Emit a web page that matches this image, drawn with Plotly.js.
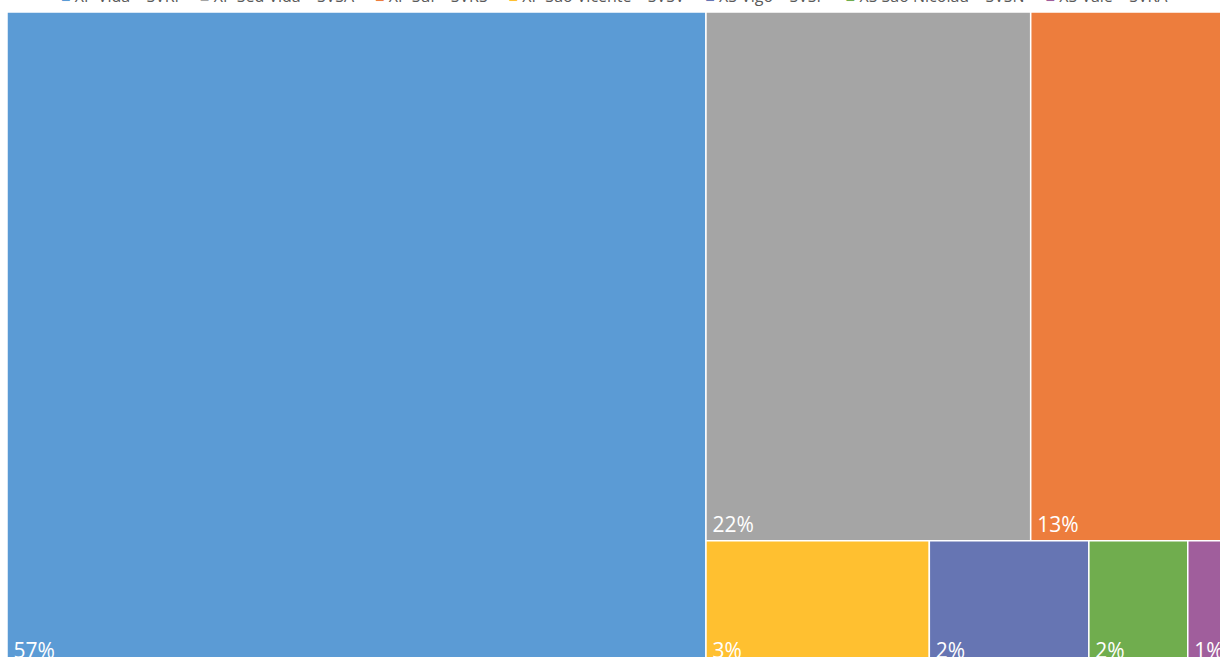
<!DOCTYPE html>
<html>
<head>
<meta charset="utf-8">
<script src="https://cdn.plot.ly/plotly-3.0.1.min.js"></script>
<style>
html,body{margin:0;padding:0;overflow:hidden;background:#fff;width:1220px;height:657px;}
#chart{position:absolute;left:0;top:-12px;width:1235px;height:679px;}
</style>
</head>
<body>
<div id="chart"></div>
<script>
// Categories (legend names, partly cut off at top of the reference)
const categories = ["XP Vida – SVRI", "XP Sed Vida – SVSA", "XP Sul – SVRS", "XP São Vicente – SVSV", "XS Vigo – SVSF", "XS São Nicolau – SVSN", "XS Vale – SVRA"];
// Share of total (%), read from the tile areas
const values = [56.8, 21.3, 13.4, 3.5, 2.5, 1.55, 0.74];
// Data labels as printed on the tiles
const pctLabels = ["57%", "22%", "13%", "3%", "2%", "2%", "1%"];
const colors = ["#5B9BD5", "#A5A5A5", "#ED7D3D", "#FFC030", "#6675B3", "#70AD4E", "#A05E9C"];

const trace = {
  type: "treemap",
  labels: categories,
  parents: categories.map(() => ""),
  values: values,
  text: pctLabels,
  texttemplate: "\u2009%{text}",
  textposition: "bottom left",
  textfont: {family: "Open Sans, sans-serif", size: 21, color: "#ffffff"},
  sort: true,
  tiling: {packing: "squarify", squarifyratio: 1.618, pad: 0},
  pathbar: {visible: false},
  marker: {colors: colors, line: {color: "#ffffff", width: 1.5}, pad: {t: 0, l: 0, r: 0, b: 0}},
  leaf: {opacity: 1},
  hoverinfo: "label+value"
};

const legendText = categories.map((c, i) =>
  '<span style="color:' + colors[i] + '">■</span> ' + c).join("     ");

const layout = {
  width: 1235,
  height: 679,
  margin: {l: 7, r: 0, t: 24, b: 0},
  paper_bgcolor: "#ffffff",
  showlegend: false,
  annotations: [{
    text: legendText,
    showarrow: false,
    xref: "paper", yref: "paper",
    x: 0.495, y: 1, xanchor: "center", yanchor: "bottom",
    yshift: 3,
    font: {family: "Open Sans, sans-serif", size: 16, color: "#595959"}
  }]
};

Plotly.newPlot("chart", [trace], layout, {displayModeBar: false, staticPlot: true});
</script>
</body>
</html>
